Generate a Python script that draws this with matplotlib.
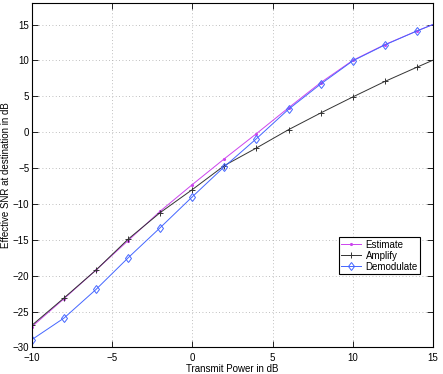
import matplotlib
matplotlib.use("Agg")
import matplotlib.pyplot as plt

plt.rcParams['font.family'] = ['Liberation Sans', 'DejaVu Sans']

# transmit power (dB), last point lies past the axis limit
power_db = [-10, -8, -6, -4, -2, 0, 2, 4, 6, 8, 10, 12, 14, 16]

# effective SNR at destination (dB)
snr_estimate = [-27.1, -23.2, -19.2, -15.1, -11.0, -7.3, -3.7, -0.2, 3.4, 6.9, 10.0, 12.2, 14.1, 15.9]
snr_amplify = [-26.9, -23.1, -19.2, -14.9, -11.2, -8.0, -4.65, -2.2, 0.35, 2.67, 4.9, 7.06, 9.05, 11.0]
snr_demodulate = [-28.9, -25.9, -21.9, -17.5, -13.3, -9.0, -4.8, -0.9, 3.2, 6.7, 9.93, 12.15, 14.1, 15.9]

fig = plt.figure(figsize=(4.43, 3.74), dpi=100)
ax = fig.add_axes([0.0722, 0.071, 0.905, 0.921])

ax.plot(power_db, snr_estimate, color='#cc44ee', marker='.', markersize=2.5,
        linewidth=0.7, label='Estimate')
ax.plot(power_db, snr_amplify, color='#333333', marker='+', markersize=5,
        markeredgewidth=0.7, linewidth=0.7, label='Amplify')
ax.plot(power_db, snr_demodulate, color='#4466ff', marker='d', markersize=4.5,
        markerfacecolor='none', markeredgewidth=0.7, linewidth=0.7, label='Demodulate')

ax.set_xlim(-10, 15)
ax.set_ylim(-30, 18)
ax.set_xticks([-10, -5, 0, 5, 10, 15])
ax.set_yticks([-30, -25, -20, -15, -10, -5, 0, 5, 10, 15])
ax.tick_params(direction='in', top=True, right=True, labelsize=7, length=4, width=0.6)
ax.tick_params(axis='x', pad=4)
ax.tick_params(axis='y', pad=2)
ax.grid(True, linestyle=(0, (1, 3)), color='#aaaaaa', linewidth=0.6)
for s in ax.spines.values():
    s.set_linewidth(0.8)

ax.set_xlabel('Transmit Power in dB', fontsize=7, labelpad=1)
ax.set_ylabel('Effective SNR at destination in dB', fontsize=7, labelpad=1)

leg = ax.legend(loc='center', bbox_to_anchor=(0.867, 0.266), fontsize=7, fancybox=False,
                framealpha=1, edgecolor='black', borderpad=0.25, labelspacing=0.1,
                handlelength=2.0, handletextpad=0.5, borderaxespad=0)
leg.get_frame().set_linewidth(0.8)

fig.savefig('out.png', dpi=100)
